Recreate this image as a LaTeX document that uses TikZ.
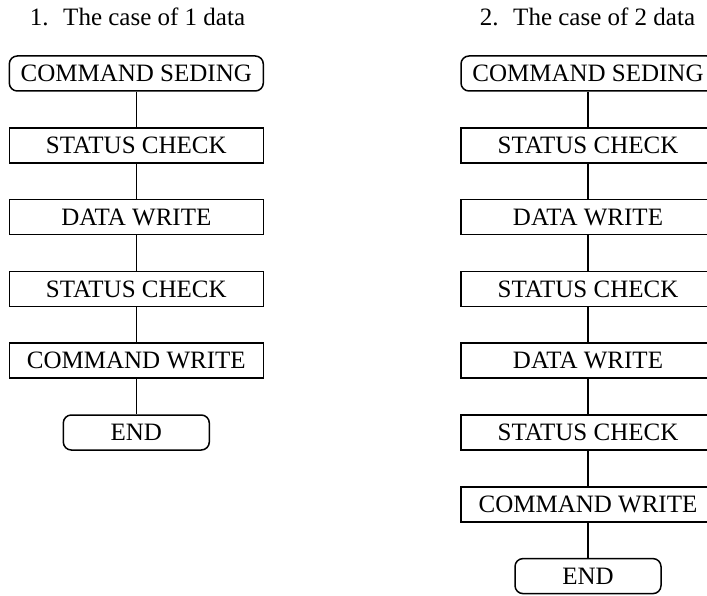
\documentclass[tikz,border=0pt]{standalone}
\usepackage{fontspec}
\setmainfont{Liberation Serif}
\begin{document}
\begin{tikzpicture}[x=1pt,y=-1pt,
	step box/.style={draw, line width=1.5pt, minimum width=254pt, minimum height=35pt, inner sep=0pt, font=\fontsize{25}{25}\selectfont},
	end box/.style={step box, rounded corners=8pt},
	title/.style={font=\fontsize{25}{25}\selectfont}]
		\clip (0,0) rectangle (707,596);
		% 1. one data
		\node[title] (ta) at (137.5,17) {1.~ The case of 1 data};
		\node[end box] (a1) at (136.3,73.5) {COMMAND SEDING};
		\node[step box] (a2) at (136.3,145.3) {STATUS CHECK};
		\node[step box] (a3) at (136.3,217.1) {DATA WRITE};
		\node[step box] (a4) at (136.3,288.9) {STATUS CHECK};
		\node[step box] (a5) at (136.3,360.7) {COMMAND WRITE};
		\node[end box, minimum width=146pt] (a6) at (136.3,432.5) {END};
		\draw[line width=1.5pt] (a1)--(a2) (a2)--(a3) (a3)--(a4) (a4)--(a5) (a5)--(a6);
		
		% 2. two data
		\node[title] (tb) at (587.5,17) {2.~ The case of 2 data};
		\node[end box] (b1) at (588,73.5) {COMMAND SEDING};
		\node[step box] (b2) at (588,145.3) {STATUS CHECK};
		\node[step box] (b3) at (588,217.1) {DATA WRITE};
		\node[step box] (b4) at (588,288.9) {STATUS CHECK};
		\node[step box] (b5) at (588,360.7) {DATA WRITE};
		\node[step box] (b6) at (588,432.5) {STATUS CHECK};
		\node[step box] (b7) at (588,504.3) {COMMAND WRITE};
		\node[end box, minimum width=146pt] (b8) at (588,576.1) {END};
		\draw[line width=1.5pt] (b1)--(b2) (b2)--(b3) (b3)--(b4) (b4)--(b5) (b5)--(b6) (b6)--(b7) (b7)--(b8);
	\end{tikzpicture}
\end{document}
